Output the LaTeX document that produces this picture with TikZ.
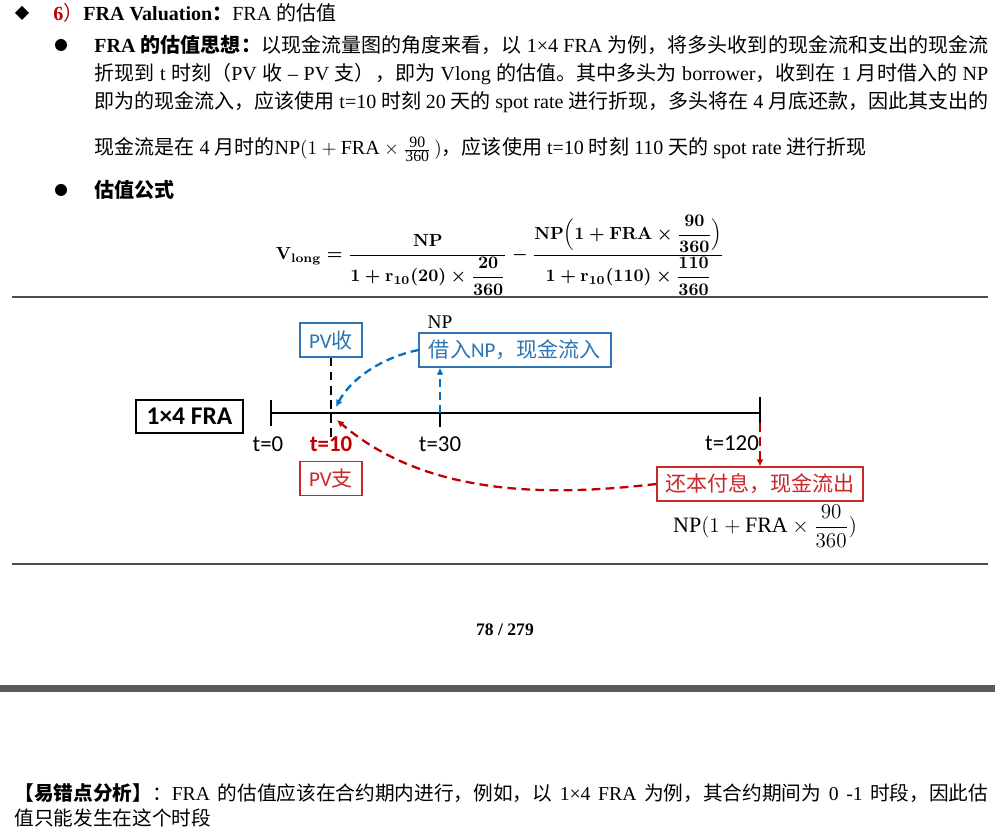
\documentclass[tikz,border=0pt]{standalone}
\usepackage{amsmath}
\usepackage{fontspec}
\setmainfont{Liberation Serif}
\setsansfont{Carlito}
\newfontfamily\cjkfont{Noto Sans CJK SC}
\usetikzlibrary{arrows.meta}
\XeTeXlinebreaklocale "zh"
\XeTeXlinebreakskip=0pt plus 1pt minus 0.5pt
\newlength\px
\setlength\px{0.02cm}
\newcommand\zh[1]{{\cjkfont #1}}
\newcommand\smallnum[1]{\text{\fontsize{9}{9}\selectfont #1}}
\newsavebox\formbox
\definecolor{boxblue}{RGB}{46,117,182}
\definecolor{arrblue}{RGB}{0,112,192}
\definecolor{darkred}{RGB}{192,0,0}
\definecolor{boxred}{RGB}{200,40,40}
\definecolor{barbg}{RGB}{89,89,89}
\tikzset{
  body/.style={anchor=base west, inner sep=0pt, font=\fontsize{11.4}{14}\selectfont},
  bodysmall/.style={anchor=base west, inner sep=0pt, font=\fontsize{11.2}{13}\selectfont},
  rule/.style={draw=black!70, line width=0.6pt},
  axis/.style={draw=black, line width=1.4pt},
  frabox/.style={draw=black, line width=0.8pt, inner sep=0pt, minimum width=107\px, minimum height=33\px, font=\sffamily\bfseries\fontsize{14.5}{16}\selectfont},
  bluebox/.style={draw=boxblue, text=boxblue, line width=0.7pt, inner sep=0pt, minimum height=34\px, font=\sffamily\fontsize{12}{14}\selectfont},
  redbox/.style={draw=boxred, text=boxred, line width=0.7pt, inner sep=0pt, minimum height=34\px, font=\sffamily\fontsize{12}{14}\selectfont},
  tlab/.style={inner sep=0pt, font=\sffamily\fontsize{13}{15}\selectfont},
  blackdash/.style={draw=black, line width=1.4pt, dash pattern=on 5pt off 3pt},
  bluedash/.style={draw=arrblue, line width=1.3pt, dash pattern=on 4.5pt off 2.8pt, -{Latex[length=4pt,width=4pt]}},
  reddash/.style={draw=darkred, line width=1.3pt, dash pattern=on 5pt off 3pt, -{Latex[length=4pt,width=4pt]}},
}
\begin{document}
\sbox\formbox{\fontsize{10}{12}\selectfont\boldmath$\mathbf{V_{long}}=\dfrac{\mathbf{NP}}{\mathbf{1}+\mathbf{r_{10}(20)}\times\dfrac{\mathbf{20}}{\mathbf{360}}}-\dfrac{\mathbf{NP}\Bigl(\mathbf{1}+\mathbf{FRA}\times\dfrac{\mathbf{90}}{\mathbf{360}}\Bigr)}{\mathbf{1}+\mathbf{r_{10}(110)}\times\dfrac{\mathbf{110}}{\mathbf{360}}}$}%
\begin{tikzpicture}[x=0.02cm, y=-0.02cm]
\fill[white] (0,0) rectangle (995,831);
\useasboundingbox (0,0) rectangle (995,831);

% title line
\fill (22,6) -- (29,13) -- (22,20) -- (15,13) -- cycle;
\node[body] (title) at (53,21) {\textcolor{darkred}{\textbf{6}\zh{）}}\textbf{FRA Valuation\zh{：}}FRA \zh{的估值}};

% bullet 1
\fill (61,45) circle [radius=6];
\node[body] (l1) at (94,53) {\makebox[894\px][s]{\textbf{FRA \zh{\bfseries 的估值思想：}}\zh{以现金流量图的角度来看，以} 1×4 FRA \zh{为例，将多头收到的现金流和支出的现金流}}};
\node[body] (l2) at (94,81) {\makebox[894\px][s]{\zh{折现到} t \zh{时刻（}PV \zh{收} – PV \zh{支），即为} Vlong \zh{的估值。其中多头为} borrower\zh{，收到在} 1 \zh{月时借入的} NP}};
\node[body] (l3) at (94,109) {\makebox[894\px][s]{\zh{即为的现金流入，应该使用} t=10 \zh{时刻} 20 \zh{天的} spot rate \zh{进行折现，多头将在} 4 \zh{月底还款，因此其支出的}}};
\node[body] (l4) at (94,155) {\zh{现金流是在} 4 \zh{月时的}$\mathrm{NP}(1+\mathrm{FRA}\times\frac{\smallnum{90}}{\smallnum{360}}\,)$\zh{，应该使用} t=10 \zh{时刻} 110 \zh{天的} spot rate \zh{进行折现}};

% bullet 2
\fill (61,190) circle [radius=6];
\node[body] (l5) at (94,198) {\zh{\bfseries 估值公式}};

% formula
\node[inner sep=0pt] (formula) at (500,255) {\usebox\formbox};

\draw[rule] (12,297) -- (988,297);

% diagram
\node[frabox] (fra) at (189.5,416.5) {1×4 FRA};
\coordinate (t0) at (271,413);
\coordinate (tend) at (760,413);
\coordinate (t0top) at (271,400);
\coordinate (t0bot) at (271,426);
\coordinate (t30) at (440,413);
\coordinate (t30bot) at (440,427);
\coordinate (t120top) at (760,397);
\coordinate (t120bot) at (760,423);
\coordinate (t10low) at (331,440);
\coordinate (t10a) at (336,407);
\coordinate (t10b) at (337,420);
\draw[axis] (t0) -- (tend);
\draw[axis] (t0top) -- (t0bot);
\draw[axis] (t30) -- (t30bot);
\draw[axis] (t120top) -- (t120bot);

\node[bluebox, minimum width=62\px] (pvin) at (331,340) {PV\zh{收}};
\node[bluebox, minimum width=192\px] (borrow) at (515,350) {\zh{借入}NP\zh{，现金流入}};
\node[inner sep=0pt, font=\fontsize{11}{13}\selectfont] (np) at (440,322) {NP};
\node[redbox, minimum width=62\px] (pvout) at (331,478.5) {PV\zh{支}};
\node[redbox, minimum width=206\px] (repay) at (760,484) {\zh{还本付息，现金流出}};
\node[inner sep=0pt, font=\fontsize{12.5}{15}\selectfont] (npf) at (765,526) {$\mathrm{NP}(1+\mathrm{FRA}\times\dfrac{90}{360})$};

\node[tlab] (lab0) at (268,444) {t=0};
\node[tlab, text=darkred, font=\sffamily\bfseries\fontsize{13}{15}\selectfont] (lab10) at (331,444) {t=10};
\node[tlab] (lab30) at (440,444) {t=30};
\node[tlab] (lab120) at (732,443) {t=120};

\draw[blackdash] (pvin.south) -- (t10low);
\draw[bluedash] (t30) -- (t30 |- borrow.south);
\draw[bluedash] (borrow.west) .. controls (380,358) and (350,380) .. (t10a);
\draw[reddash] (repay.west) .. controls (560,495) and (430,500) .. (t10b);
\draw[reddash] (t120bot) -- (repay.north);

\draw[rule] (12,564) -- (988,564);

% footer
\node[inner sep=0pt, font=\bfseries\fontsize{10}{12}\selectfont] (page) at (505,630) {78 / 279};
\fill[barbg] (0,685) rectangle (995,692);

\node[bodysmall] (b1) at (14,800) {\makebox[974\px][s]{\zh{\bfseries 【易错点分析】}\zh{：}FRA \zh{的估值应该在合约期内进行，例如，以} 1×4 FRA \zh{为例，其合约期间为} 0 -1 \zh{时段，因此估}}};
\node[bodysmall] (b2) at (14,825) {\zh{值只能发生在这个时段}};
\end{tikzpicture}
\end{document}
